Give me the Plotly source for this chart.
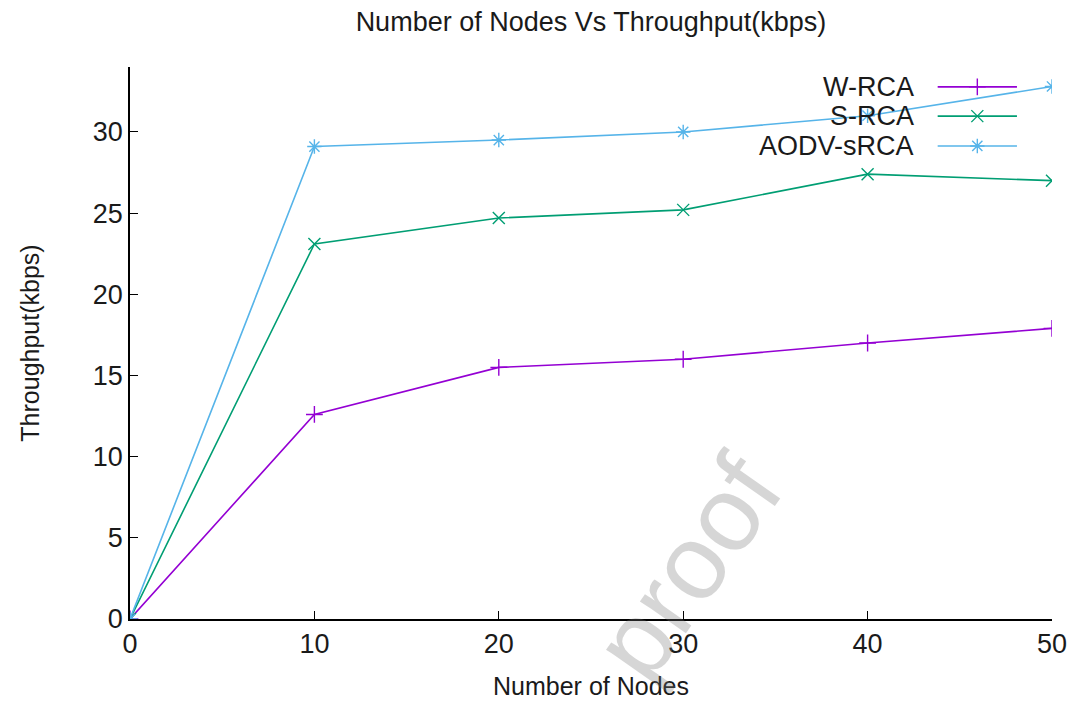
import plotly.graph_objects as go

# Throughput measured for increasing network size
nodes = [0, 10, 20, 30, 40, 50]
w_rca = [0, 12.6, 15.5, 16.0, 17.0, 17.9]
s_rca = [0, 23.1, 24.7, 25.2, 27.4, 27.0]
aodv_srca = [0, 29.1, 29.5, 30.0, 31.0, 32.8]

series_names = ["W-RCA", "S-RCA", "AODV-sRCA"]
series_values = [w_rca, s_rca, aodv_srca]
series_colors = ["#9400d3", "#009e73", "#56b4e9"]
series_symbols = ["cross-thin", "x-thin", "asterisk"]

x_ticks = [0, 10, 20, 30, 40, 50]
y_ticks = [0, 5, 10, 15, 20, 25, 30]

FONT = "Liberation Sans, Arial, sans-serif"
TXT = "#1a1a1a"

fig = go.Figure()

for name, vals, col, sym in zip(series_names, series_values, series_colors, series_symbols):
    fig.add_trace(go.Scatter(
        x=nodes, y=vals, name=name, mode="lines+markers",
        line=dict(color=col, width=1.6),
        marker=dict(symbol=sym, size=12, color=col, line=dict(color=col, width=1.4)),
        showlegend=False,
    ))

# key drawn gnuplot-style: label on the left, sample on the right
key_rows = [0.964, 0.911, 0.857]
for name, col, sym, ky in zip(series_names, series_colors, series_symbols, key_rows):
    fig.add_trace(go.Scatter(
        x=[0.876, 0.962], y=[ky, ky], xaxis="x3", yaxis="y3",
        mode="lines", line=dict(color=col, width=1.6),
        showlegend=False, hoverinfo="skip",
    ))
    fig.add_trace(go.Scatter(
        x=[0.919], y=[ky], xaxis="x3", yaxis="y3", mode="markers",
        marker=dict(symbol=sym, size=12, color=col, line=dict(color=col, width=1.4)),
        showlegend=False, hoverinfo="skip",
    ))
    fig.add_annotation(
        x=0.853, y=ky, xref="paper", yref="paper", text=name,
        showarrow=False, xanchor="right", yanchor="middle",
        font=dict(family=FONT, size=27, color=TXT),
    )

# faint diagonal watermark
fig.add_annotation(
    x=(692 - 130) / 930, y=(620 - 568) / 553, xref="paper", yref="paper",
    xanchor="center", yanchor="middle",
    text="proof", showarrow=False, textangle=-55,
    font=dict(family=FONT, size=106, color="rgba(120,120,120,0.30)"),
)

axis_common = dict(showgrid=False, zeroline=False, ticks="inside", ticklen=8,
                   tickwidth=1, tickcolor="black")

fig.update_layout(
    width=1079, height=708,
    margin=dict(l=130, r=19, t=67, b=88),
    paper_bgcolor="white", plot_bgcolor="white",
    font=dict(family=FONT, color=TXT),
    title=dict(text="Number of Nodes Vs Throughput(kbps)", x=0.5, xref="paper",
               y=1 - 22 / 708, yref="container", yanchor="middle",
               font=dict(family=FONT, size=27, color=TXT)),
    xaxis=dict(range=[0, 50], tickvals=x_ticks, showline=True, linecolor="black",
               linewidth=1.5, tickfont=dict(size=27, color=TXT),
               title=dict(text="Number of Nodes", font=dict(size=25, color=TXT), standoff=19),
               **axis_common),
    yaxis=dict(range=[0, 34], tickvals=y_ticks, showline=True, linecolor="black",
               linewidth=1.5, tickfont=dict(size=27, color=TXT),
               title=dict(text="Throughput(kbps)", font=dict(size=25, color=TXT), standoff=46),
               **axis_common),
    xaxis2=dict(range=[0, 50], tickvals=x_ticks, overlaying="x", side="top", anchor="y",
                showticklabels=False, showline=False, **axis_common),
    yaxis2=dict(range=[0, 34], tickvals=y_ticks, overlaying="y", side="right", anchor="x",
                showticklabels=False, showline=False, **axis_common),
    xaxis3=dict(range=[0, 1], overlaying="x", visible=False, anchor="y3"),
    yaxis3=dict(range=[0, 1], overlaying="y", visible=False, anchor="x3"),
)

fig.write_html("out.html")
